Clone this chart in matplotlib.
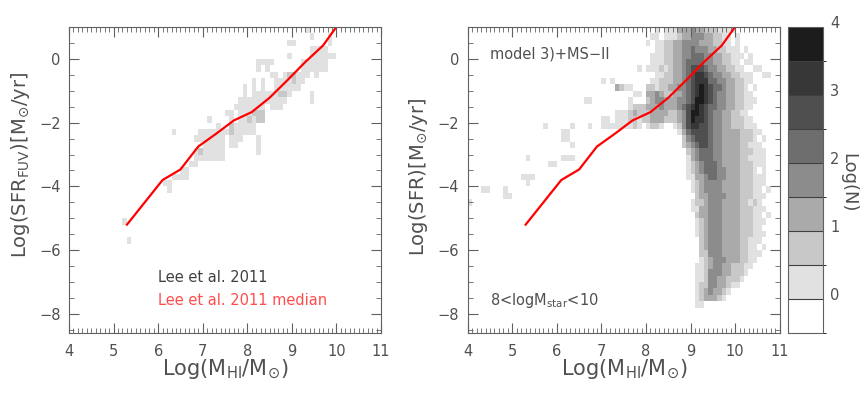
import numpy as np
import matplotlib
matplotlib.use('Agg')
import matplotlib.pyplot as plt
from matplotlib.colors import ListedColormap, BoundaryNorm
from matplotlib.ticker import MultipleLocator
from matplotlib.transforms import ScaledTranslation

# Lee et al. 2011 median relation
median_logmhi = [5.3, 5.7, 6.1, 6.5, 6.9, 7.3, 7.7, 8.1, 8.5, 8.9, 9.3, 9.7, 10.1]
median_logsfr = [-5.2, -4.5, -3.8, -3.47, -2.75, -2.35, -1.93, -1.67, -1.22, -0.67, -0.1, 0.42, 1.2]

# histogram grid: x bins 4..11 step 0.1, y bins -8.6..1.0 step 0.2
x_edges = np.arange(4.0, 11.05, 0.1)
y_edges = np.arange(-8.6, 1.05, 0.2)

# colour levels: '.' = empty, 1..8 = Log(N) band (0.5 wide, starting at 0)
# rows listed from the top (y = 1.0) downwards, groups of 10 bins = one dex in x
lee_rows = [
    ".......... .......... .......... .......... .......... ...1...... ..........",
    ".......... .......... .......... .......... .......... ....1...1. ..........",
    ".......... .......... .......... .......... .........1 1.......1. ..........",
    ".......... .......... .......... .......... .......... ....1111.. ..........",
    ".......... .......... .......... .......... .........1 ....111111 ..........",
    ".......... .......... .......... .......... ..1111.... ..111111.. ..........",
    ".......... .......... .......... .......... ..1.1..... ..111111.. ..........",
    ".......... .......... .......... .......... .....11.12 2111.1.... ..........",
    ".......... .......... .......... .......... .1.1..1111 211....... ..........",
    ".......... .......... .......... .........1 .1.1..1111 11........ ..........",
    ".......... .......... .......... .........1 .111111221 ....1..... ..........",
    ".......... .......... .......... ........11 111111111. ....1..... ..........",
    ".......... .......... .......... .......111 1111.111.. .......... ..........",
    ".......... .......... .......... .....11.11 1222...... .......... ..........",
    ".......... .......... .......... .1....1.11 2122...... .......... ..........",
    ".......... .......... .......... ...1..2111 11........ .......... ..........",
    ".......... .......... ...1.....1 1111112111 11........ .......... ..........",
    ".......... .......... ........11 11111.111. ..1....... .......... ..........",
    ".......... .......... .......... 11111.11.. ..1....... .......... ..........",
    ".......... .......... ........12 11111..... ..1....... .......... ..........",
    ".......... .......... ........11 11111..... .......... .......... ..........",
    ".......... .......... .......11. .......... .......... .......... ..........",
    ".......... .......... .....11... .......... .......... .......... ..........",
    ".......... .......... ...1111... .......... .......... .......... ..........",
    ".......... .......... .11....... .......... .......... .......... ..........",
    ".......... .......... ..1....... .......... .......... .......... ..........",
    ".......... .......... .......... .......... .......... .......... ..........",
    ".......... .......... .......... .......... .......... .......... ..........",
    ".......... .......... .......... .......... .......... .......... ..........",
    ".......... .......... .......... .......... .......... .......... ..........",
    ".......... ..1....... .......... .......... .......... .......... ..........",
    ".......... .......... .......... .......... .......... .......... ..........",
    ".......... .......... .......... .......... .......... .......... ..........",
    ".......... ...1...... .......... .......... .......... .......... ..........",
]

model_rows = [
    ".......... .......... .......... .......... ..1.111333 4332221111 ..........",
    ".......... .......... .......... .......... .11.111233 444332211. 1.........",
    ".......... .......... .......... .......... 1.11223344 443332211. 1.........",
    ".......... .......... .......... .......... ..11223344 5444332211 1.1.......",
    ".......... .......... .......... .......... .111223344 5554433221 11.1......",
    ".......... .......... .......... .......... .111223345 5554433221 1.11......",
    ".......... .......... .......... ........1. 1112123345 6665443322 11..11....",
    ".......... .......... .......... .......... ..11223345 6776544332 2111..11..",
    ".......... .......... .......... 1.1....... .112223345 6777554433 2211......",
    ".......... .......... .......... ...3211... 2212233445 6787655433 221.1.....",
    ".......... .......... .......... .......11. 3343223345 6787654433 2211......",
    ".......... .......... ......11.. ......1... 2344333445 6887654433 22111.....",
    ".......... .......... .......... ......1222 3334333456 7876554433 2211......",
    ".......... .......... .......... ...1112322 2333322346 8876544332 211.......",
    ".......... .......... .......... 11.1112212 2333222346 8776544332 2211......",
    ".......... .......1.. ...1...1.. 111111121. 1221..1246 7766544332 22111.....",
    ".......... .......... .11....... .......... .......135 6666544333 322211....",
    ".......... .......... .11....... .......... ........24 5666544333 32221.1...",
    ".......... .......... ...1...... .......... ........23 4566544333 322111....",
    ".......... .......... .......... .......... .........2 3455544333 3222111...",
    ".......... ...1...... .111...... .......... .........1 3455544333 3221111...",
    ".......... ........11 .......... .......... .........1 2345554333 3222111...",
    ".......... .......... .......... .......... .........1 2345554433 32221.1...",
    ".......... ..111..... .......... .......... .........1 1334554433 3222111...",
    ".......... ...1...... .......... .......... .......... 1234444333 3222111...",
    "...11...1. .......... .......... .......... .......... 1234444333 322211.1..",
    "........11 .......... .......... .......... .......... .233444433 3222111...",
    "1......... .......... .......... .......... .......... 1223444333 322121....",
    ".......... .......... .......... .......... .......... 1133444333 3222111...",
    ".......... .......... .......... .......... .......... .233444333 322211.1..",
    ".......... .......... .......... .......... .......... .123444333 3222111...",
    ".......... .......... .......... .......... .......... .123444333 322211....",
    ".......... .......... .......... .......... .......... .123444333 3222111...",
    ".......... .......... .......... .......... .......... ..23444333 322111....",
    ".......... .......... .......... .......... .......... ..23444333 32211.1...",
    ".......... .......... .......... .......... .......... ..22444333 322111....",
    ".......... .......... .......... .......... .......... ..12344433 32211.....",
    ".......... .......... .......... .......... .......... .112344332 2211......",
    ".......... .......... .......... .......... .......... .112444332 221.......",
    ".......... .......... .......... .......... .......... .112443322 21........",
    ".......... .......... .......... .......... .......... .122443321 1.........",
    ".......... .......... .......... .......... .......... .12343321. ..........",
    ".......... .......... .......... .......... .......... .1233321.. ..........",
    ".......... .......... .......... .......... .......... .11....... ..........",
]

cbar_ticks = [0, 1, 2, 3, 4]
gray_levels = ['#ffffff', '#e1e1e1', '#c8c8c8', '#aaaaaa', '#8c8c8c',
               '#6e6e6e', '#4f4f4f', '#373737', '#1c1c1c']


def rows_to_logn(rows):
    ny = len(y_edges) - 1
    grid = np.zeros((ny, len(x_edges) - 1))
    for r, row in enumerate(rows):
        cells = row.replace(' ', '')
        assert len(cells) == 70, (r, len(cells))
        grid[ny - 1 - r] = [0 if c == '.' else int(c) for c in cells]
    logn = np.where(grid > 0, (grid - 1) * 0.5 + 0.25, np.nan)
    return np.ma.masked_invalid(logn)


cmap = ListedColormap(gray_levels)
norm = BoundaryNorm(np.arange(-0.5, 4.01, 0.5), cmap.N)

txt = '#505050'
edge = '#606060'

fig = plt.figure(figsize=(8.66, 3.93), dpi=100)
ax1 = fig.add_axes([69 / 866, 1 - 333 / 393, 312 / 866, 306 / 393])
ax2 = fig.add_axes([467.7 / 866, 1 - 333 / 393, 312 / 866, 306 / 393])
cax = fig.add_axes([788.3 / 866, 1 - 333 / 393, 35 / 866, 306 / 393])

ax1.pcolormesh(x_edges, y_edges, rows_to_logn(lee_rows), cmap=cmap, norm=norm)
mesh = ax2.pcolormesh(x_edges, y_edges, rows_to_logn(model_rows), cmap=cmap, norm=norm)

for ax in (ax1, ax2):
    ax.plot(median_logmhi, median_logsfr, color='#ff0000', lw=1.6)
    ax.set_xlim(4, 11)
    ax.set_ylim(-8.6, 1.0)
    ax.xaxis.set_major_locator(MultipleLocator(1))
    ax.xaxis.set_minor_locator(MultipleLocator(0.1))
    ax.yaxis.set_major_locator(MultipleLocator(2))
    ax.yaxis.set_minor_locator(MultipleLocator(0.5))
    ax.tick_params(which='both', direction='in', top=True, right=True,
                   color=edge, labelcolor=txt, labelsize=10.5)
    ax.tick_params(which='major', length=7, width=0.8)
    ax.tick_params(which='minor', length=3.5, width=0.6)
    ax.tick_params(axis='x', pad=8)
    ax.tick_params(axis='y', pad=6)
    for s in ax.spines.values():
        s.set_color(edge)
        s.set_linewidth(0.8)
    ax.set_xlabel(r'Log(M$_{\mathrm{HI}}$/M$_{\odot}$)', fontsize=15, color=txt)
    ax.xaxis.set_label_coords(0.5, -0.08)

ax1.set_ylabel(r'Log(SFR$_{\mathrm{FUV}}$)[M$_{\odot}$/yr]', fontsize=14, color=txt)
ax1.yaxis.set_label_coords(-0.12, 0.55)
ax2.set_ylabel(r'Log(SFR)[M$_{\odot}$/yr]', fontsize=14, color=txt)
ax2.yaxis.set_label_coords(-0.12, 0.51)

ax1.text(6.0, -6.87, 'Lee et al. 2011', color='#404040', fontsize=10.5, va='center')
ax1.text(6.0, -7.57, 'Lee et al. 2011 median', color='#ff4c4c', fontsize=10.5, va='center')
ax2.text(4.5, 0.16, 'model 3)+MS\u2212II', color=txt, fontsize=10.5, va='center')
ax2.text(4.5, -7.57, r'8<logM$_{\mathrm{star}}$<10', color=txt, fontsize=10.5, va='center')

cb = fig.colorbar(mesh, cax=cax, ticks=cbar_ticks, drawedges=True)
cb.outline.set_edgecolor(edge)
cb.outline.set_linewidth(0.8)
cb.dividers.set_color('#404040')
cb.dividers.set_linewidth(0.8)
cax.tick_params(length=0, labelsize=10.5, labelcolor=txt, pad=5)
shift = ScaledTranslation(0, 5 / 100, fig.dpi_scale_trans)
for lab in cax.get_yticklabels():
    lab.set_transform(lab.get_transform() + shift)
fig.text(848 / 866, 1 - 183 / 393, 'Log(N)', rotation=270, ha='center', va='center',
         fontsize=13, color=txt)

fig.savefig('out.png', dpi=100)
plt.close(fig)
